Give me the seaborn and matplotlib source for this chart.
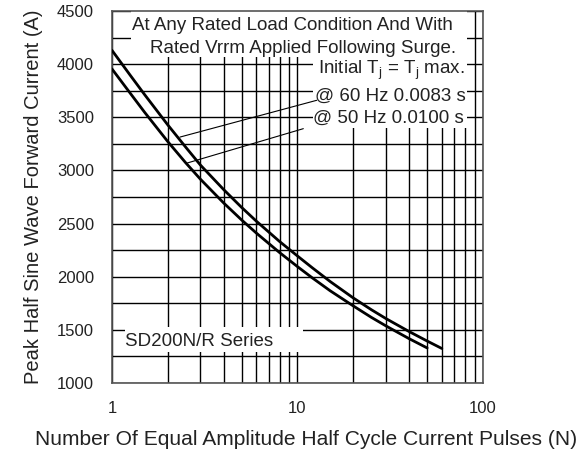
import numpy as np
import pandas as pd
import matplotlib
matplotlib.use("Agg")
import matplotlib.pyplot as plt
from matplotlib.patches import Rectangle
from matplotlib.ticker import FixedLocator, NullFormatter
import seaborn as sns

# ----------------------------
# Data
# ----------------------------
pulses_60hz = [1, 1.25, 1.5, 2, 2.5, 3, 4, 5, 6, 8, 10, 12, 15, 20, 25, 30, 40, 50, 60]
current_60hz = [4130, 3899, 3713, 3428, 3218, 3050, 2820, 2652, 2523, 2332, 2195,
                2085, 1955, 1800, 1690, 1606, 1484, 1395, 1325]

pulses_50hz = [1, 1.25, 1.5, 2, 2.5, 3, 4, 5, 6, 8, 10, 12, 15, 20, 25, 30, 40, 50]
current_50hz = [3955, 3730, 3547, 3271, 3071, 2917, 2694, 2534, 2411, 2228, 2095,
                1990, 1868, 1725, 1618, 1537, 1417, 1330]

y_major = [1000, 1500, 2000, 2500, 3000, 3500, 4000, 4500]
y_minor = [1250, 1750, 2250, 2750, 3250, 3750, 4250]
x_major = [1, 10, 100]
x_labels = ["1", "10", "100"]
x_minor = [2, 3, 4, 5, 6, 7, 8, 9, 20, 30, 40, 50, 60, 70, 80, 90]

df = pd.concat([
    pd.DataFrame({"N": pulses_60hz, "I": current_60hz, "series": "60 Hz"}),
    pd.DataFrame({"N": pulses_50hz, "I": current_50hz, "series": "50 Hz"}),
])

# ----------------------------
# Style
# ----------------------------
sns.set_style("white")
plt.rcParams["font.family"] = ["Liberation Sans", "DejaVu Sans"]
plt.rcParams["mathtext.fontset"] = "custom"
plt.rcParams["mathtext.rm"] = "Liberation Sans"
plt.rcParams["mathtext.it"] = "Liberation Sans"

fig = plt.figure(figsize=(5.82, 4.55), dpi=100)
ax = fig.add_axes([0.1924, 0.1582, 0.6375, 0.8176])

sns.lineplot(data=df, x="N", y="I", hue="series", palette=["black", "black"],
             linewidth=2.0, legend=False, ax=ax, zorder=3)

ax.set_xscale("log")
ax.set_xlim(1, 100)
ax.set_ylim(1000, 4500)

ax.xaxis.set_major_locator(FixedLocator(x_major))
ax.set_xticklabels(x_labels)
ax.xaxis.set_minor_locator(FixedLocator(x_minor))
ax.xaxis.set_minor_formatter(NullFormatter())
ax.set_yticks(y_major)
ax.set_yticks(y_minor, minor=True)

ax.grid(which="both", color="black", linewidth=1.0)
ax.set_axisbelow(True)
ax.tick_params(which="both", length=0, labelsize=12, pad=13, colors="#222222")
for s in ax.spines.values():
    s.set_color("#555555")
    s.set_linewidth(1.2)

ax.set_xlabel("Number Of Equal Amplitude Half Cycle Current Pulses (N)",
              fontsize=15.1, color="#222222", labelpad=10)
ax.xaxis.label.set_x(0.523)
ax.set_ylabel("Peak Half Sine Wave Forward Current (A)",
              fontsize=14.5, color="#222222", labelpad=10)

# white boxes hiding the grid behind the notes
for x0, y0, w, h in [(0.052, 0.876, 0.905, 0.124),
                     (0.542, 0.685, 0.415, 0.191),
                     (0.035, 0.083, 0.480, 0.068)]:
    ax.add_patch(Rectangle((x0, y0), w, h, transform=ax.transAxes,
                           facecolor="white", edgecolor="none", zorder=1))

txt = dict(fontsize=13.5, color="#222222", va="center", ha="left", zorder=4)
ax.text(1.28, 4365, "At Any Rated Load Condition And With", **txt)
ax.text(1.60, 4149, "Rated Vrrm Applied Following Surge.", **txt)
ax.text(12.9, 3943, r"Initial T$_{\mathrm{j}}$ = T$_{\mathrm{j}}$ max.", **txt)
ax.text(12.4, 3693, "@ 60 Hz 0.0083 s", **txt)
ax.text(12.1, 3490, "@ 50 Hz 0.0100 s", **txt)
ax.text(1.175, 1395, "SD200N/R Series", **txt)

# leader lines
ax.plot([2.326, 12.7], [3314, 3660], color="black", linewidth=0.8, zorder=3)
ax.plot([2.546, 10.75], [3070, 3393], color="black", linewidth=0.8, zorder=3)

fig.savefig("out.png", dpi=100)
